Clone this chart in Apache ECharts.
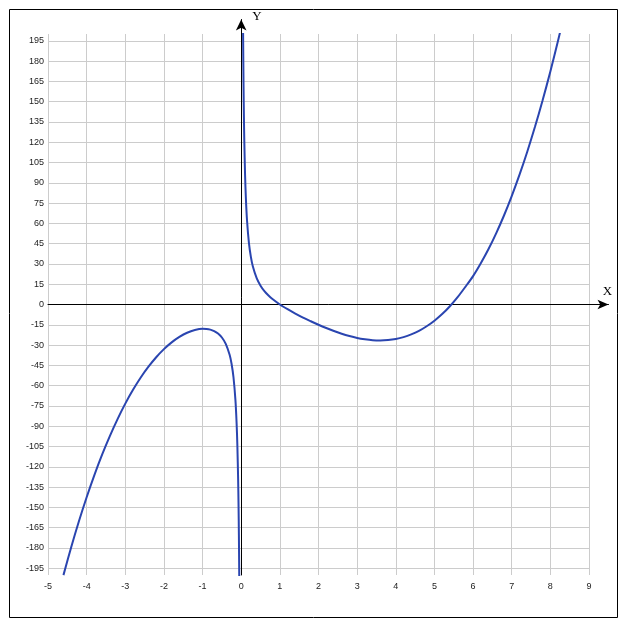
<!DOCTYPE html>
<html>
<head>
<meta charset="utf-8">
<script src="https://cdn.jsdelivr.net/npm/echarts@6/dist/echarts.min.js"></script>
<style>
html,body{margin:0;padding:0;background:#fff;}
#chart{width:627px;height:630px;}
</style>
</head>
<body>
<div id="chart"></div>
<script>
// Tick labels
const xTicks = [-5, -4, -3, -2, -1, 0, 1, 2, 3, 4, 5, 6, 7, 8, 9];
const yTicks = [-195, -180, -165, -150, -135, -120, -105, -90, -75, -60, -45, -30, -15, 0,
                15, 30, 45, 60, 75, 90, 105, 120, 135, 150, 165, 180, 195];

// Left branch (x < 0)
const leftX = [-4.6, -4.4, -4.2, -4.0, -3.8, -3.6, -3.4, -3.2, -3.0, -2.8, -2.6, -2.4, -2.2, -2.0,
               -1.8, -1.6, -1.4, -1.2, -1.0, -0.9, -0.8, -0.7, -0.6, -0.5, -0.4, -0.3, -0.25,
               -0.2, -0.15, -0.12, -0.1, -0.08, -0.07, -0.06, -0.05];
const leftY = [-200.1, -179.5, -160.3, -142.5, -126.1, -111.0, -97.3, -84.7, -73.3, -63.1, -54.0,
               -46.0, -39.0, -33.0, -28.0, -24.0, -20.9, -18.9, -18.0, -18.1, -18.6, -19.7, -21.5,
               -24.4, -29.1, -37.2, -43.8, -53.8, -70.5, -87.2, -103.9, -128.9, -146.7, -170.6, -203.9];

// Right branch (x > 0)
const rightX = [0.048, 0.05, 0.06, 0.07, 0.08, 0.1, 0.12, 0.15, 0.2, 0.25, 0.3, 0.4, 0.5, 0.6, 0.7,
                0.8, 1.0, 1.2, 1.4, 1.6, 1.8, 2.0, 2.2, 2.4, 2.6, 2.8, 3.0, 3.2, 3.4, 3.6, 3.8,
                4.0, 4.2, 4.4, 4.6, 4.8, 5.0, 5.2, 5.4, 5.6, 5.8, 6.0, 6.2, 6.4, 6.6, 6.8, 7.0,
                7.2, 7.4, 7.6, 7.8, 8.0, 8.2, 8.3];
const rightY = [204.2, 195.9, 162.5, 138.7, 120.8, 95.8, 79.0, 62.3, 45.4, 35.2, 28.3, 19.5, 13.9,
                9.9, 6.8, 4.2, 0, -3.5, -6.7, -9.7, -12.4, -15.0, -17.4, -19.6, -21.6, -23.3, -24.7,
                -25.7, -26.4, -26.6, -26.3, -25.5, -24.1, -22.1, -19.5, -16.1, -12.0, -7.1, -1.3,
                5.4, 13.0, 21.0, 30.5, 41.0, 52.8, 65.8, 80.2, 95.8, 112.8, 131.2, 151.0, 172.3,
                195.2, 207.0];

const leftData = leftX.map((x, i) => [x, leftY[i]]);
const rightData = rightX.map((x, i) => [x, rightY[i]]);

const labelFont = {fontFamily: 'Liberation Sans', fontSize: 9, color: '#222'};
const curveColor = '#2a45b0';

const chart = echarts.init(document.getElementById('chart'), null, {renderer: 'canvas'});
chart.setOption({
  animation: false,
  backgroundColor: '#fff',
  grid: [
    {left: 48, right: 38, top: 34, bottom: 55},
    {left: 48, right: 18.5, top: 19.5, bottom: 55}
  ],
  xAxis: [
    {
      type: 'value', gridIndex: 0, min: -5, max: 9,
      axisLine: {show: false, onZero: false},
      axisTick: {show: false, customValues: xTicks},
      axisLabel: Object.assign({customValues: xTicks, margin: 7}, labelFont),
      splitLine: {show: true, lineStyle: {color: '#cccccc', width: 1}}
    },
    {
      type: 'value', gridIndex: 1, min: -5, max: 9.505,
      name: 'X', nameLocation: 'end', nameGap: -1,
      nameTextStyle: {fontFamily: 'Liberation Serif', fontSize: 13, color: '#000',
                      align: 'center', verticalAlign: 'bottom', padding: [0, 0, 6, 0]},
      axisLine: {show: true, onZero: true, symbol: ['none', 'arrow'], symbolSize: [7, 11],
                 lineStyle: {color: '#000', width: 1}},
      axisTick: {show: false}, axisLabel: {show: false}, splitLine: {show: false}
    }
  ],
  yAxis: [
    {
      type: 'value', gridIndex: 0, min: -200, max: 200,
      axisLine: {show: false, onZero: false},
      axisTick: {show: false, customValues: yTicks},
      axisLabel: Object.assign({customValues: yTicks, margin: 4}, labelFont),
      splitLine: {show: true, lineStyle: {color: '#cccccc', width: 1}}
    },
    {
      type: 'value', gridIndex: 1, min: -200, max: 210.7,
      name: 'Y', nameLocation: 'end', nameGap: 3,
      nameTextStyle: {fontFamily: 'Liberation Serif', fontSize: 13, color: '#000',
                      align: 'left', verticalAlign: 'middle', padding: [0, 0, 0, 11]},
      axisLine: {show: true, onZero: true, symbol: ['none', 'arrow'], symbolSize: [8, 11],
                 lineStyle: {color: '#000', width: 1}},
      axisTick: {show: false}, axisLabel: {show: false}, splitLine: {show: false}
    }
  ],
  graphic: [
    {type: 'rect', z: 100,
     shape: {x: 9.5, y: 9.5, width: 608, height: 608},
     style: {fill: 'none', stroke: '#000', lineWidth: 1}}
  ],
  series: [
    {type: 'line', xAxisIndex: 0, yAxisIndex: 0, data: leftData, showSymbol: false,
     smooth: 0.3, clip: true, lineStyle: {color: curveColor, width: 2}, z: 3},
    {type: 'line', xAxisIndex: 0, yAxisIndex: 0, data: rightData, showSymbol: false,
     smooth: 0.3, clip: true, lineStyle: {color: curveColor, width: 2}, z: 3}
  ]
});
</script>
</body>
</html>
